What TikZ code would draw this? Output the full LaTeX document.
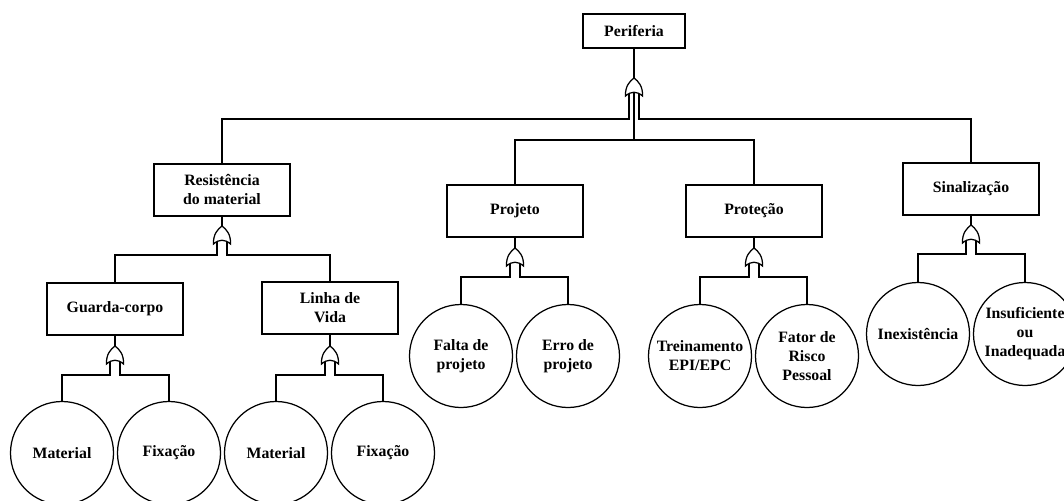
\documentclass[tikz,border=0pt]{standalone}
\usepackage{fontspec}
\setmainfont{Liberation Serif}
\tikzset{
  orgate/.pic={
    \draw[fill=white] (-8.5,18) .. controls (-9,8) and (-4,3) .. (0,0)
      .. controls (4,3) and (9,8) .. (8.5,18)
      .. controls (3,13) and (-3,13) .. (-8.5,18) -- cycle;
    \coordinate (-top) at (0,0);
    \coordinate (-l) at (-5,15.6);
    \coordinate (-r) at (5,15.6);
    \coordinate (-m) at (0,14.3);
    \coordinate (-bl) at (-5,29);
    \coordinate (-br) at (5,29);
  }
}
\begin{document}
\begin{tikzpicture}[x=1pt, y=-1pt, line width=1.25pt,
  every node/.style = {align=center, inner sep=1pt,
    font=\bfseries\fontsize{15.8}{19}\selectfont},
  event/.style = {shape=rectangle, draw, minimum width=136pt, minimum height=52pt},
  basic/.style = {shape=circle, draw, minimum size=103pt}]
  \useasboundingbox (0,0) rectangle (1064,500);
  \clip (0,0) rectangle (1064,500);
  \coordinate (b1) at (0,119);
  \coordinate (b2) at (0,140);

  % top event
  \node[event, minimum width=102pt, minimum height=34pt] (per) at (634,31) {Periferia};
  \pic (gp) at (634,78) {orgate};
  \draw (per) -- (gp-top);

  % intermediate events
  \node[event] (res) at (222,190) {Resistência\\do material};
  \node[event] (proj) at (515,211) {Projeto};
  \node[event] (prot) at (754,211) {Proteção};
  \node[event] (sin) at (971,189) {Sinalização};
  \draw (gp-l) |- (res.north |- b1) -- (res.north);
  \draw (gp-r) |- (sin.north |- b1) -- (sin.north);
  \draw (gp-m) -- (gp-m |- b2);
  \draw (proj.north) |- (prot.north |- b2) -- (prot.north);

  % resistencia do material
  \pic (gr) at (222,226) {orgate};
  \draw (res) -- (gr-top);
  \node[event] (gc) at (115,309) {Guarda-corpo};
  \node[event] (lv) at (330,308) {Linha de\\Vida};
  \draw (gr-l) -- (gr-bl) -| (gc.north);
  \draw (gr-r) -- (gr-br) -| (lv.north);

  \pic (ggc) at (115,346) {orgate};
  \draw (gc) -- (ggc-top);
  \node[basic] (gcmat) at (62,453) {Material};
  \node[basic] (gcfix) at (169,453) {Fixação};
  \draw (ggc-l) -- (ggc-bl) -| (gcmat.north);
  \draw (ggc-r) -- (ggc-br) -| (gcfix.north);

  \pic (glv) at (330,346) {orgate};
  \draw (lv) -- (glv-top);
  \node[basic] (lvmat) at (276,453) {Material};
  \node[basic] (lvfix) at (383,453) {Fixação};
  \draw (glv-l) -- (glv-bl) -| (lvmat.north);
  \draw (glv-r) -- (glv-br) -| (lvfix.north);

  % projeto
  \pic (gpj) at (515,248) {orgate};
  \draw (proj) -- (gpj-top);
  \node[basic] (falta) at (461,356) {Falta de\\projeto};
  \node[basic] (erro) at (568,356) {Erro de\\projeto};
  \draw (gpj-l) -- (gpj-bl) -| (falta.north);
  \draw (gpj-r) -- (gpj-br) -| (erro.north);

  % protecao
  \pic (gpt) at (754,248) {orgate};
  \draw (prot) -- (gpt-top);
  \node[basic] (trein) at (700,356) {Treinamento\\EPI/EPC};
  \node[basic] (fator) at (807,356) {Fator de\\Risco\\Pessoal};
  \draw (gpt-l) -- (gpt-bl) -| (trein.north);
  \draw (gpt-r) -- (gpt-br) -| (fator.north);

  % sinalizacao
  \pic (gsn) at (971,225) {orgate};
  \draw (sin) -- (gsn-top);
  \node[basic] (inex) at (918,334) {Inexistência};
  \node[basic] (insuf) at (1025,334) {Insuficiente\\ou\\Inadequada};
  \draw (gsn-l) -- (gsn-bl) -| (inex.north);
  \draw (gsn-r) -- (gsn-br) -| (insuf.north);
\end{tikzpicture}
\end{document}
